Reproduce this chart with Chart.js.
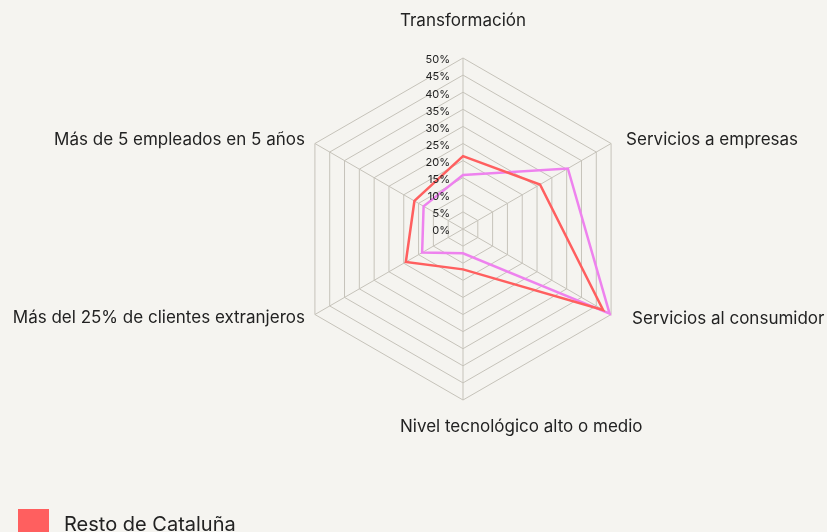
<!DOCTYPE html>
<html>
<head>
<meta charset="utf-8">
<script src="https://cdn.jsdelivr.net/npm/chart.js@4/dist/chart.umd.min.js"></script>
<style>
  html, body { margin: 0; padding: 0; background: #f5f4f0; overflow: hidden; width: 827px; height: 532px; }
  #wrap { position: relative; width: 827px; height: 532px; }
  canvas { display: block; }
  #legend { position: absolute; left: 18px; top: 506px; font-family: Inter, sans-serif; font-size: 20px; color: #222; }
  .item { display: flex; align-items: center; height: 36px; }
  .box { width: 31px; height: 31px; margin-right: 15px; }
</style>
</head>
<body>
<div id="wrap">
  <canvas id="c" width="827" height="532"></canvas>
  <div id="legend"></div>
</div>
<script>
const categories = ['Transformación', 'Servicios a empresas', 'Servicios al consumidor', 'Nivel tecnológico alto o medio', 'Más del 25% de clientes extranjeros', 'Más de 5 empleados en 5 años'];
const seriesNames = ['Resto de Cataluña', 'Barcelona'];
const restoValues = [21.3, 26, 47.3, 11.8, 19.3, 16.4];
const barcelonaValues = [15.8, 35.4, 49.5, 7.1, 13.8, 13.3];
const tickValues = [0, 5, 10, 15, 20, 25, 30, 35, 40, 45, 50];
const tickLabels = ['0%', '5%', '10%', '15%', '20%', '25%', '30%', '35%', '40%', '45%', '50%'];
const colors = ['#ff5f5f', '#ee82ee'];

// label placement rules relative to scale vertices: [align, dx, dy]
const labelPlace = [
  ['center', 0, -37],
  ['left', 15, -3.5],
  ['left', 21, 4.5],
  ['left', -63, 27],
  ['right', -10, 3.5],
  ['right', -10, -3.5]
];

const customLabels = {
  id: 'customLabels',
  afterDraw(chart) {
    const s = chart.scales.r;
    const ctx = chart.ctx;
    ctx.save();
    ctx.fillStyle = '#222';
    ctx.textBaseline = 'middle';
    ctx.font = '17px Inter, sans-serif';
    categories.forEach((lab, i) => {
      const p = s.getPointPosition(i, s.drawingArea);
      const [al, dx, dy] = labelPlace[i];
      ctx.textAlign = al;
      ctx.fillText(lab, p.x + dx, p.y + dy);
    });
    ctx.font = '11px Inter, sans-serif';
    ctx.textAlign = 'right';
    tickValues.forEach((v, i) => {
      const d = s.getDistanceFromCenterForValue(v);
      ctx.fillText(tickLabels[i], s.xCenter - 13, s.yCenter - d + 2);
    });
    ctx.restore();
  }
};

const bg = {
  id: 'bg',
  beforeDraw(chart) {
    const ctx = chart.ctx;
    ctx.save();
    ctx.fillStyle = '#f5f4f0';
    ctx.fillRect(0, 0, chart.width, chart.height);
    ctx.restore();
  }
};

const chart = new Chart(document.getElementById('c'), {
  type: 'radar',
  data: {
    labels: categories,
    datasets: [
      { label: seriesNames[0], data: restoValues, borderColor: colors[0], backgroundColor: colors[0], borderWidth: 2.5, fill: false, pointRadius: 0, tension: 0 },
      { label: seriesNames[1], data: barcelonaValues, borderColor: colors[1], backgroundColor: colors[1], borderWidth: 2.5, fill: false, pointRadius: 0, tension: 0 }
    ]
  },
  options: {
    responsive: false,
    animation: false,
    layout: { padding: { top: 58, bottom: 132, left: 150, right: 51 } },
    plugins: { legend: { display: false }, tooltip: { enabled: false } },
    scales: {
      r: {
        min: 0, max: 50,
        ticks: { display: false, stepSize: 5 },
        pointLabels: { display: false },
        grid: { color: '#c6c3ba', lineWidth: 1 },
        angleLines: { color: '#c6c3ba', lineWidth: 1 }
      }
    }
  },
  plugins: [bg, customLabels]
});

const leg = document.getElementById('legend');
seriesNames.forEach((n, i) => {
  const it = document.createElement('div');
  it.className = 'item';
  const b = document.createElement('div');
  b.className = 'box';
  b.style.background = colors[i];
  const t = document.createElement('span');
  t.textContent = n;
  it.appendChild(b); it.appendChild(t);
  leg.appendChild(it);
});
</script>
</body>
</html>
